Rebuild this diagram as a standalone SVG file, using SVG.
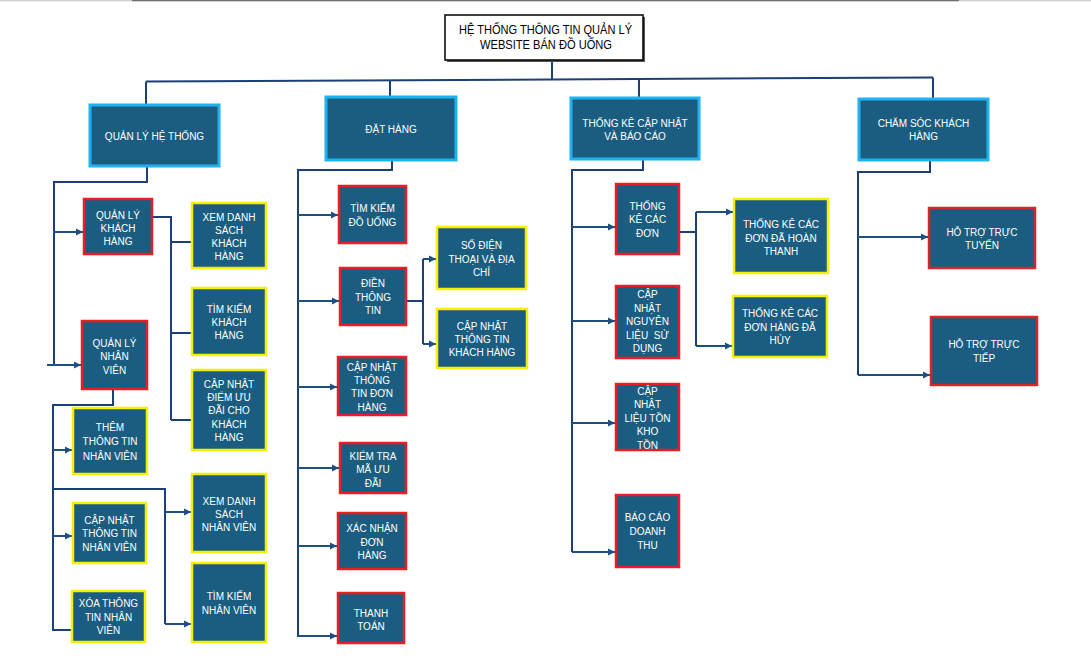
<svg xmlns="http://www.w3.org/2000/svg" width="1091" height="671" viewBox="0 0 1091 671">
<style>
.bx{fill:#1a5d80}
.l1{stroke:#1fb2f0;stroke-width:3}
.rd{stroke:#ec1c24;stroke-width:2.5}
.rd2{stroke:#d6262b;stroke-width:2.5}
.yl{stroke:#f6f000;stroke-width:2.5}
.t{fill:#fff;font-family:"Liberation Sans",Arial,sans-serif;font-size:10px;text-anchor:middle}
.tt{fill:#000;font-family:"Liberation Sans",Arial,sans-serif;font-size:12px;text-anchor:middle}
.c{fill:none;stroke:#1d3f78;stroke-width:2}
.a{fill:none;stroke:#1d4f82;stroke-width:2;marker-end:url(#ar)}
</style>
<defs>
<marker id="ar" markerUnits="userSpaceOnUse" markerWidth="8" markerHeight="8" refX="7" refY="4" orient="auto">
<path d="M0,0.5 L7,4 L0,7.5 z" fill="#1d4f82"/>
</marker>
</defs>
<rect width="1091" height="671" fill="#fff"/>
<line x1="0" y1="0.5" x2="1091" y2="0.5" stroke="#d0d0d0" stroke-width="1.5"/>
<line x1="132" y1="0.5" x2="959" y2="0.5" stroke="#707070" stroke-width="1.5"/>

<g id="connectors">
<path class="c" d="M552,60 V79"/>
<path class="c" d="M146,81.5 L933,77.5"/>
<path class="c" d="M146,81.5 V105"/>
<path class="c" d="M390,80 V98"/>
<path class="c" d="M639,79 V98"/>
<path class="c" d="M933,77.5 V99"/>
<path class="c" d="M147,166 V182 H54 V365"/>
<path class="a" d="M54,232 H83"/>
<path class="a" d="M47,365 H81"/>
<path class="c" d="M152,217 H171 V420"/>
<path class="c" d="M171,242 H192"/>
<path class="c" d="M171,333 H192"/>
<path class="c" d="M171,420 H192"/>
<path class="c" d="M113,389 V405 H53 V630 H72"/>
<path class="a" d="M53,450 H72"/>
<path class="a" d="M53,536 H72"/>
<path class="c" d="M53,489 H165 V624"/>
<path class="a" d="M165,512 H191"/>
<path class="a" d="M165,624 H191"/>
<path class="c" d="M392,160 V170 H298 V637"/>
<path class="a" d="M298,215 H338"/>
<path class="a" d="M298,301 H339"/>
<path class="a" d="M298,387 H337"/>
<path class="a" d="M298,468 H339"/>
<path class="a" d="M298,546 H337"/>
<path class="a" d="M298,636 H337"/>
<path class="c" d="M406,301 H423"/>
<path class="c" d="M423,259 V344"/>
<path class="a" d="M423,259 H436"/>
<path class="a" d="M423,344 H436"/>
<path class="c" d="M643,159 V170 H572 V552"/>
<path class="a" d="M572,227 H615"/>
<path class="a" d="M572,321 H615"/>
<path class="a" d="M572,423 H615"/>
<path class="a" d="M572,552 H615"/>
<path class="c" d="M679,232 H696"/>
<path class="c" d="M696,212 V346"/>
<path class="a" d="M696,212 H733"/>
<path class="a" d="M696,346 H732"/>
<path class="c" d="M930,160 V172 H858 V375"/>
<path class="a" d="M858,237 H928"/>
<path class="a" d="M858,375 H930"/>
</g>

<g id="root">
<rect x="447" y="17" width="198" height="45" fill="#555"/>
<rect x="445" y="15" width="198" height="45" fill="#fff" stroke="#000" stroke-width="1.5"/>
<text class="tt"><tspan x="545.5" y="33.5" textLength="173" lengthAdjust="spacingAndGlyphs">HỆ THỐNG THÔNG TIN QUẢN LÝ</tspan><tspan x="546" y="48.5" textLength="132" lengthAdjust="spacingAndGlyphs">WEBSITE BÁN ĐỒ UỐNG</tspan></text>
</g>

<g id="quan-ly-he-thong"><rect class="bx l1" x="90" y="105" width="129" height="61"/>
<text class="t"><tspan x="154.5" y="139.5">QUẢN LÝ HỆ THỐNG</tspan></text></g>
<g id="dat-hang"><rect class="bx l1" x="326" y="97" width="130" height="63"/>
<text class="t"><tspan x="391" y="132.5">ĐẶT HÀNG</tspan></text></g>
<g id="thong-ke"><rect class="bx l1" x="571" y="98" width="128" height="61"/>
<text class="t"><tspan x="635" y="126.5">THỐNG KÊ CẬP NHẬT</tspan><tspan x="635" y="139.5">VÀ BÁO CÁO</tspan></text></g>
<g id="cham-soc"><rect class="bx l1" x="859" y="99" width="129" height="61"/>
<text class="t"><tspan x="923.5" y="126.5">CHĂM SÓC KHÁCH</tspan><tspan x="923.5" y="139.5">HÀNG</tspan></text></g>

<g id="ql-khach-hang"><rect class="bx rd" x="84" y="199" width="68" height="55"/>
<text class="t"><tspan x="118" y="218.5">QUẢN LÝ</tspan><tspan x="118" y="231.5">KHÁCH</tspan><tspan x="118" y="244.5">HÀNG</tspan></text></g>
<g id="xem-ds-kh"><rect class="bx yl" x="192" y="203" width="74" height="65"/>
<text class="t"><tspan x="229" y="220.5">XEM DANH</tspan><tspan x="229" y="233.5">SÁCH</tspan><tspan x="229" y="246.5">KHÁCH</tspan><tspan x="229" y="259.5">HÀNG</tspan></text></g>
<g id="tim-kiem-kh"><rect class="bx yl" x="192" y="288" width="74" height="67"/>
<text class="t"><tspan x="229" y="312.5">TÌM KIẾM</tspan><tspan x="229" y="325.5">KHÁCH</tspan><tspan x="229" y="339">HÀNG</tspan></text></g>
<g id="cap-nhat-diem"><rect class="bx yl" x="192" y="370" width="74" height="80"/>
<text class="t"><tspan x="229" y="387.5">CẬP NHẬT</tspan><tspan x="229" y="400.5">ĐIỂM ƯU</tspan><tspan x="229" y="414">ĐÃI CHO</tspan><tspan x="229" y="427.5">KHÁCH</tspan><tspan x="229" y="440.5">HÀNG</tspan></text></g>
<g id="ql-nhan-vien"><rect class="bx rd" x="82" y="321" width="65" height="68"/>
<text class="t"><tspan x="114.5" y="346.5">QUẢN LÝ</tspan><tspan x="114.5" y="359.5">NHÂN</tspan><tspan x="114.5" y="373.5">VIÊN</tspan></text></g>
<g id="them-nv"><rect class="bx yl" x="73" y="408" width="74" height="66"/>
<text class="t"><tspan x="110" y="430.5">THÊM</tspan><tspan x="110" y="444.5">THÔNG TIN</tspan><tspan x="110" y="459.5">NHÂN VIÊN</tspan></text></g>
<g id="cap-nhat-nv"><rect class="bx yl" x="73" y="503" width="73" height="60"/>
<text class="t"><tspan x="109.5" y="523.5">CẬP NHẬT</tspan><tspan x="109.5" y="536.5">THÔNG TIN</tspan><tspan x="109.5" y="550.5">NHÂN VIÊN</tspan></text></g>
<g id="xoa-nv"><rect class="bx yl" x="72" y="591" width="73" height="51"/>
<text class="t"><tspan x="108.5" y="606.5">XÓA THÔNG</tspan><tspan x="108.5" y="620.5">TIN NHÂN</tspan><tspan x="108.5" y="633.5">VIÊN</tspan></text></g>
<g id="xem-ds-nv"><rect class="bx yl" x="192" y="474" width="74" height="78"/>
<text class="t"><tspan x="229" y="504.5">XEM DANH</tspan><tspan x="229" y="517.5">SÁCH</tspan><tspan x="229" y="530.5">NHÂN VIÊN</tspan></text></g>
<g id="tim-kiem-nv"><rect class="bx yl" x="192" y="563" width="74" height="79"/>
<text class="t"><tspan x="229" y="599.5">TÌM KIẾM</tspan><tspan x="229" y="613.5">NHÂN VIÊN</tspan></text></g>

<g id="tim-kiem-do-uong"><rect class="bx rd" x="339" y="186" width="67" height="57"/>
<text class="t"><tspan x="372.5" y="211.5">TÌM KIẾM</tspan><tspan x="372.5" y="225.5">ĐỒ UỐNG</tspan></text></g>
<g id="dien-thong-tin"><rect class="bx rd" x="340" y="268" width="66" height="57"/>
<text class="t"><tspan x="373" y="286.5">ĐIỀN</tspan><tspan x="373" y="300.5">THÔNG</tspan><tspan x="373" y="313.5">TIN</tspan></text></g>
<g id="so-dien-thoai"><rect class="bx yl" x="437" y="227" width="89" height="62"/>
<text class="t"><tspan x="481.5" y="248.5">SỐ ĐIỆN</tspan><tspan x="481.5" y="262.5">THOẠI VÀ ĐỊA</tspan><tspan x="481.5" y="275.5">CHỈ</tspan></text></g>
<g id="cap-nhat-tt-kh"><rect class="bx yl" x="437" y="309" width="90" height="59"/>
<text class="t"><tspan x="482" y="329.5">CẬP NHẬT</tspan><tspan x="482" y="342.5">THÔNG TIN</tspan><tspan x="482" y="355.5">KHÁCH HÀNG</tspan></text></g>
<g id="cap-nhat-don-hang"><rect class="bx rd" x="338" y="357" width="68" height="58"/>
<text class="t"><tspan x="372" y="370.5">CẬP NHẬT</tspan><tspan x="372" y="383.5">THÔNG</tspan><tspan x="372" y="396.5">TIN ĐƠN</tspan><tspan x="372" y="410.5">HÀNG</tspan></text></g>
<g id="kiem-tra-ma"><rect class="bx rd" x="340" y="443" width="66" height="50"/>
<text class="t"><tspan x="373" y="459.5">KIỂM TRA</tspan><tspan x="373" y="472.5">MÃ ƯU</tspan><tspan x="373" y="486.5">ĐÃI</tspan></text></g>
<g id="xac-nhan"><rect class="bx rd" x="338" y="513" width="68" height="56"/>
<text class="t"><tspan x="372" y="531.5">XÁC NHẬN</tspan><tspan x="372" y="545.5">ĐƠN</tspan><tspan x="372" y="558.5">HÀNG</tspan></text></g>
<g id="thanh-toan"><rect class="bx rd" x="338" y="593" width="66" height="50"/>
<text class="t"><tspan x="371" y="616.5">THANH</tspan><tspan x="371" y="629.5">TOÁN</tspan></text></g>

<g id="thong-ke-cac-don"><rect class="bx rd" x="616" y="184" width="63" height="70"/>
<text class="t"><tspan x="647.5" y="209.5">THỐNG</tspan><tspan x="647.5" y="222.5">KÊ CÁC</tspan><tspan x="647.5" y="236.5">ĐƠN</tspan></text></g>
<g id="cap-nhat-nguyen-lieu"><rect class="bx rd" x="616" y="286" width="63" height="72"/>
<text class="t"><tspan x="647.5" y="297.5">CẬP</tspan><tspan x="647.5" y="311.5">NHẬT</tspan><tspan x="647.5" y="324.5">NGUYÊN</tspan><tspan x="647.5" y="338.5" xml:space="preserve">LIỆU  SỬ</tspan><tspan x="647.5" y="351.5">DỤNG</tspan></text></g>
<g id="cap-nhat-ton-kho"><rect class="bx rd" x="616" y="384" width="63" height="66"/>
<text class="t"><tspan x="647.5" y="394.5">CẬP</tspan><tspan x="647.5" y="407.5">NHẬT</tspan><tspan x="647.5" y="421.5">LIỆU TỒN</tspan><tspan x="647.5" y="434.5">KHO</tspan><tspan x="647.5" y="448.5">TỒN</tspan></text></g>
<g id="bao-cao-doanh-thu"><rect class="bx rd" x="616" y="495" width="63" height="72"/>
<text class="t"><tspan x="647.5" y="520.5">BÁO CÁO</tspan><tspan x="647.5" y="534.5">DOANH</tspan><tspan x="647.5" y="548.5">THU</tspan></text></g>
<g id="tk-hoan-thanh"><rect class="bx yl" x="734" y="199" width="94" height="74"/>
<text class="t"><tspan x="781" y="227.5">THỐNG KÊ CÁC</tspan><tspan x="781" y="241.5">ĐƠN ĐÃ HOÀN</tspan><tspan x="781" y="254.5">THANH</tspan></text></g>
<g id="tk-da-huy"><rect class="bx yl" x="733" y="296" width="94" height="61"/>
<text class="t"><tspan x="780" y="316.5">THỐNG KÊ CÁC</tspan><tspan x="780" y="330.5">ĐƠN HÀNG ĐÃ</tspan><tspan x="780" y="343.5">HỦY</tspan></text></g>

<g id="ho-tro-truc-tuyen"><rect class="bx rd2" x="929" y="208" width="106" height="60"/>
<text class="t"><tspan x="982" y="235.5">HỖ TRỢ TRỰC</tspan><tspan x="982" y="248.5">TUYẾN</tspan></text></g>
<g id="ho-tro-truc-tiep"><rect class="bx rd2" x="931" y="317" width="106" height="68"/>
<text class="t"><tspan x="984" y="347.5">HỖ TRỢ TRỰC</tspan><tspan x="984" y="361.5">TIẾP</tspan></text></g>
</svg>
